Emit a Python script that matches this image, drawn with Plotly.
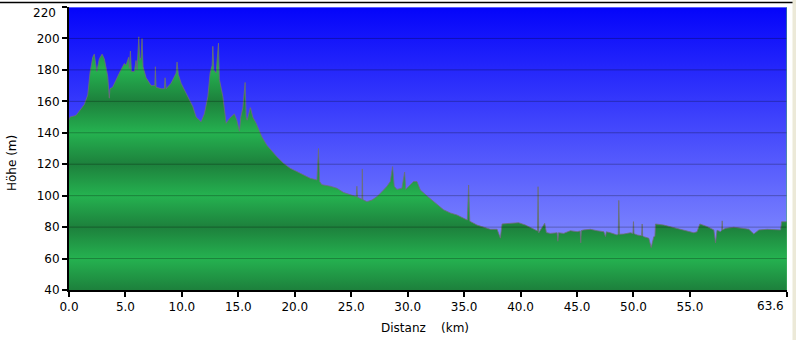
import plotly.graph_objects as go

# ---------------- data ----------------
dist_km = [
    0.00, 0.09, 0.62, 1.36, 1.66, 1.86, 2.10, 2.24, 2.46, 2.69, 2.93, 3.13, 3.43, 3.57, 3.63, 3.87,
    4.46, 4.90, 5.05, 5.29, 5.35, 5.44, 5.53, 5.79, 5.94, 6.03, 6.18, 6.27, 6.38, 6.47, 6.56, 6.83,
    7.27, 7.60, 7.65, 7.71, 8.16, 8.45, 8.51, 8.60, 9.04, 9.49, 9.57, 9.69, 9.93, 10.37, 10.97, 11.26,
    11.70, 11.99, 12.30, 12.50, 12.68, 12.74, 12.83, 13.03, 13.24, 13.32, 13.63, 13.92, 14.21, 14.65,
    14.87, 15.10, 15.22, 15.40, 15.60, 15.69, 15.78, 16.07, 16.28, 16.58,
    17.08, 17.53, 17.82, 18.41, 19.00, 19.59, 20.19, 20.77, 21.37, 21.96, 22.10, 22.20, 22.40, 23.14,
    23.73, 24.32, 24.91, 25.44, 25.50, 25.56, 25.95, 25.98, 26.02, 26.39, 26.84, 27.28, 27.72, 28.17,
    28.46, 28.66, 28.81, 29.05, 29.49, 29.73, 29.83, 30.08, 30.52, 30.82, 31.12, 31.71, 32.30, 32.89,
    33.18, 33.78, 34.37, 34.96, 35.28, 35.40, 35.50, 36.14, 36.73, 37.32, 37.92, 38.21, 38.36, 39.10,
    39.83, 40.43, 41.02, 41.50, 41.55, 41.61, 42.14, 42.29, 42.64, 43.24, 43.30, 43.36, 43.82, 44.41,
    45.01, 45.28, 45.33, 45.38, 45.59, 46.19, 46.78, 47.37, 47.52, 47.60, 47.96, 48.55, 48.65, 48.70,
    48.76, 49.14, 49.73, 49.95, 50.00, 50.05, 50.33, 50.72, 50.77, 50.82, 50.91, 51.36, 51.57,
    51.80, 51.90, 51.95, 52.68, 53.43, 54.17, 54.76, 55.35, 55.63, 55.88, 56.54, 57.12, 57.27, 57.40,
    57.71, 57.82, 57.86, 57.90, 58.16, 58.89, 59.64, 60.22, 60.66, 61.11, 61.85, 62.59, 63.03, 63.12,
    63.60,
]
elev_m = [
    148, 150, 151, 158, 164, 178, 188, 190, 179, 187, 190, 187, 176, 162, 168, 169,
    178, 184, 183, 188, 181, 192, 179, 179, 186, 180, 201, 186, 188, 200, 182, 175,
    170, 170, 182, 169, 168, 168, 175, 168, 171.5, 178, 185, 177, 171.5, 165, 156.6, 150,
    147, 152, 163, 178, 183, 195, 180, 178, 197, 174, 163, 146, 149, 152,
    148, 141, 150, 156, 172, 150, 148, 156, 150, 146,
    137.5, 132, 129.5, 124.8, 120.6, 117.4, 115.3, 113.2, 111, 110, 130, 109, 107, 106,
    104.7, 102, 100.4, 99.4, 106, 99, 97.7, 117, 97.5, 96.2, 97.2, 99.4, 102.5, 106,
    109, 118.5, 106, 104, 104.7, 115, 104, 105.7, 109, 109, 103.6, 99.8, 96.2, 93,
    91, 89, 87.7, 85.6, 84.5, 106.8, 83.8, 81.3, 79.9, 78.6, 78.6, 73, 82, 82.4,
    82.8, 81.3, 79.2, 77.5, 105.7, 76.4, 82.4, 76.5, 76, 76.4, 71, 76.4, 76, 77.7,
    77.1, 77.5, 70, 77.8, 78.2, 78.6, 77.7, 77.1, 74, 77, 76.4, 75, 75.5, 97,
    75.5, 75.6, 76.4, 76, 83.5, 75.8, 75, 74.5, 82, 74.3, 73.9, 72.9, 67,
    73.9, 74, 82, 81.3, 79.9, 78.6, 77.7, 76.4, 77, 82, 80.3, 78.2, 70, 78,
    77.1, 78, 84, 78.3, 79.2, 79.9, 79.2, 78.6, 75.6, 78.2, 78.6, 78.6, 78.2, 83.4,
    83.4,
]

x_range = [0, 63.6]
y_range = [40, 220]
x_tick_vals = [0, 5, 10, 15, 20, 25, 30, 35, 40, 45, 50, 55, 63.6]
x_tick_text = ["0.0", "5.0", "10.0", "15.0", "20.0", "25.0", "30.0", "35.0",
               "40.0", "45.0", "50.0", "55.0", "63.6"]
y_tick_vals = [40, 60, 80, 100, 120, 140, 160, 180, 200, 220]
y_tick_text = ["40", "60", "80", "100", "120", "140", "160", "180", "200", "220"]
x_title = "Distanz\u00a0\u00a0\u00a0\u00a0(km)"
y_title = "Höhe (m)"

# ---------------- style ----------------
FONT = "DejaVu Sans"
DARK_G = "rgb(29,128,60)"
LIGHT_G = "rgb(37,178,80)"
span = y_range[1] - y_range[0]
green_scale = [[(v - y_range[0]) / span, DARK_G if i % 2 == 0 else LIGHT_G]
               for i, v in enumerate(y_tick_vals)]

W, H = 796, 340
ML, MR, MT, MB = 69, 9, 7, 50
PW, PH = W - ML - MR, H - MT - MB


def px_x(px):
    return (px - ML) / PW


def px_y(py):
    return (H - MB - py) / PH


fig = go.Figure()

# sky gradient background
fig.add_trace(go.Scatter(
    x=[x_range[0], x_range[1], x_range[1], x_range[0]],
    y=[y_range[0], y_range[0], y_range[1], y_range[1]],
    mode="none", fill="toself",
    fillgradient=dict(type="vertical", start=y_range[0], stop=y_range[1],
                      colorscale=[[0, "rgb(152,162,255)"], [1, "rgb(4,4,250)"]]),
    hoverinfo="skip", showlegend=False,
))

# elevation profile
fig.add_trace(go.Scatter(
    x=dist_km, y=elev_m, mode="lines",
    line=dict(color="rgba(110,110,120,0.8)", width=1),
    fill="tozeroy",
    fillgradient=dict(type="vertical", start=y_range[0], stop=y_range[1],
                      colorscale=green_scale),
    showlegend=False,
))

shapes = []
for v in y_tick_vals[1:-1]:
    shapes.append(dict(type="line", xref="paper", yref="y", x0=0, x1=1, y0=v, y1=v,
                       line=dict(color="rgba(0,0,0,0.27)", width=1)))
# light top edge of plot
shapes.append(dict(type="line", xref="paper", yref="y", x0=0, x1=1,
                   y0=y_range[1], y1=y_range[1],
                   line=dict(color="rgb(180,190,255)", width=1)))
# green right edge
shapes.append(dict(type="line", xref="x", yref="y", x0=x_range[1], x1=x_range[1],
                   y0=y_range[0], y1=y_range[1],
                   line=dict(color="rgb(70,180,100)", width=1)))
# window frame: top black line and right beige strip
shapes.append(dict(type="line", xref="paper", yref="paper", x0=px_x(0), x1=px_x(793),
                   y0=px_y(2.5), y1=px_y(2.5), line=dict(color="black", width=1.5)))
shapes.append(dict(type="rect", xref="paper", yref="paper", x0=px_x(792.5), x1=px_x(800),
                   y0=px_y(345), y1=px_y(-5), fillcolor="rgb(236,233,216)",
                   line=dict(width=0)))

tick_font = dict(family=FONT, size=12, color="black")

annotations = [
    dict(text=y_title, textangle=-90, xref="paper", yref="paper", x=px_x(12), y=px_y(163),
         xanchor="center", yanchor="middle", showarrow=False, font=tick_font),
    dict(text=x_title, xref="paper", yref="paper", x=px_x(425), y=px_y(328),
         xanchor="center", yanchor="middle", showarrow=False, font=tick_font),
    # end labels nudged inward like the original
    dict(text=y_tick_text[-1], xref="paper", yref="y", x=0, y=y_tick_vals[-1],
         xanchor="right", yanchor="middle", xshift=-11, yshift=-6,
         showarrow=False, font=tick_font),
    dict(text=x_tick_text[-1], xref="x", yref="paper", x=x_tick_vals[-1], y=0,
         xanchor="right", yanchor="middle", xshift=-1, yshift=-15.5,
         showarrow=False, font=tick_font),
]

x_text_axis = x_tick_text[:-1] + [""]
y_text_axis = y_tick_text[:-1] + [""]

fig.update_layout(
    width=W, height=H, autosize=False,
    margin=dict(l=ML, r=MR, t=MT, b=MB, pad=0),
    paper_bgcolor="white", plot_bgcolor="white",
    font=dict(family=FONT, size=12, color="black"),
    xaxis=dict(range=x_range, tickmode="array", tickvals=x_tick_vals, ticktext=x_text_axis,
               ticks="outside", ticklen=5, tickwidth=2, tickcolor="black",
               showline=True, linecolor="black", linewidth=2, showgrid=False, zeroline=False,
               tickfont=tick_font, fixedrange=True),
    yaxis=dict(range=y_range, tickmode="array", tickvals=y_tick_vals, ticktext=y_text_axis,
               ticks="outside", ticklen=5, tickwidth=2, tickcolor="black",
               showline=True, linecolor="black", linewidth=2, showgrid=False, zeroline=False,
               tickfont=tick_font, fixedrange=True),
    shapes=shapes, annotations=annotations, showlegend=False,
)

fig.write_html("out.html", config={"displayModeBar": False},
               post_script="document.body.style.margin='0';")
